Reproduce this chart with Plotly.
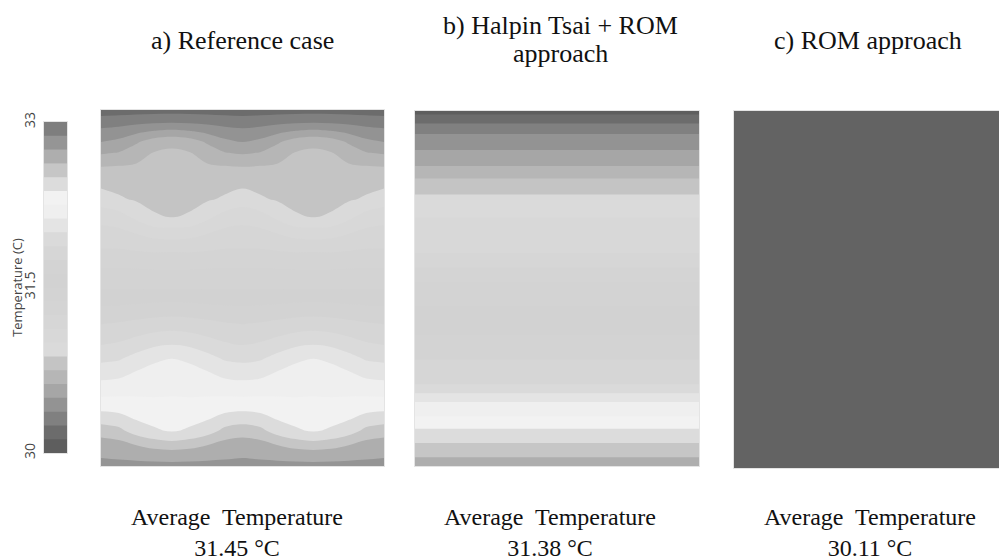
import plotly.graph_objects as go

# ---------------- data ----------------
# Panel a) reference case: temperature field (rows = depth from top, cols = horizontal position)
x_cols_a = [0, 0.0625, 0.125, 0.1875, 0.25, 0.3125, 0.375, 0.4375, 0.5,
            0.5625, 0.625, 0.6875, 0.75, 0.8125, 0.875, 0.9375, 1.0]
y_rows_a = [0, 0.03, 0.06, 0.09, 0.12, 0.16, 0.2, 0.25, 0.3, 0.35, 0.4, 0.45, 0.5,
            0.55, 0.6, 0.65, 0.7, 0.74, 0.78, 0.82, 0.86, 0.9, 0.94, 0.97, 1.0]
temp_a = [
    [30.20, 30.20, 30.20, 30.20, 30.20, 30.20, 30.20, 30.20, 30.20, 30.20, 30.20, 30.20, 30.20, 30.20, 30.20, 30.20, 30.20],
    [30.29, 30.30, 30.32, 30.33, 30.34, 30.33, 30.32, 30.30, 30.29, 30.30, 30.32, 30.33, 30.34, 30.33, 30.32, 30.30, 30.29],
    [30.41, 30.43, 30.47, 30.51, 30.53, 30.51, 30.47, 30.43, 30.41, 30.43, 30.47, 30.51, 30.53, 30.51, 30.47, 30.43, 30.41],
    [30.50, 30.53, 30.61, 30.69, 30.72, 30.69, 30.61, 30.53, 30.50, 30.53, 30.61, 30.69, 30.72, 30.69, 30.61, 30.53, 30.50],
    [30.61, 30.63, 30.69, 30.755, 30.77, 30.755, 30.69, 30.63, 30.61, 30.63, 30.69, 30.755, 30.77, 30.755, 30.69, 30.63, 30.61],
    [30.752, 30.76, 30.77, 30.78, 30.79, 30.78, 30.77, 30.76, 30.752, 30.76, 30.77, 30.78, 30.79, 30.78, 30.77, 30.76, 30.752],
    [30.83, 30.83, 30.82, 30.81, 30.81, 30.81, 30.82, 30.83, 30.83, 30.83, 30.82, 30.81, 30.81, 30.81, 30.82, 30.83, 30.83],
    [30.94, 30.89, 30.86, 30.85, 30.845, 30.85, 30.86, 30.89, 30.94, 30.89, 30.86, 30.85, 30.845, 30.85, 30.86, 30.89, 30.94],
    [31.075, 31.05, 30.97, 30.885, 30.87, 30.885, 30.97, 31.05, 31.075, 31.05, 30.97, 30.885, 30.87, 30.885, 30.97, 31.05, 31.075],
    [31.18, 31.17, 31.13, 31.09, 31.08, 31.09, 31.13, 31.17, 31.18, 31.17, 31.13, 31.09, 31.08, 31.09, 31.13, 31.17, 31.18],
    [31.27, 31.27, 31.26, 31.25, 31.255, 31.25, 31.26, 31.27, 31.27, 31.27, 31.26, 31.25, 31.255, 31.25, 31.26, 31.27, 31.27],
    [31.39, 31.39, 31.385, 31.38, 31.38, 31.38, 31.385, 31.39, 31.39, 31.39, 31.385, 31.38, 31.38, 31.38, 31.385, 31.39, 31.39],
    [31.49, 31.49, 31.49, 31.49, 31.49, 31.49, 31.49, 31.49, 31.49, 31.49, 31.49, 31.49, 31.49, 31.49, 31.49, 31.49, 31.49],
    [31.625, 31.63, 31.64, 31.655, 31.66, 31.655, 31.64, 31.63, 31.625, 31.63, 31.64, 31.655, 31.66, 31.655, 31.64, 31.63, 31.625],
    [31.745, 31.76, 31.78, 31.80, 31.81, 31.80, 31.78, 31.76, 31.745, 31.76, 31.78, 31.80, 31.81, 31.80, 31.78, 31.76, 31.745],
    [31.85, 31.87, 31.91, 31.95, 31.97, 31.95, 31.91, 31.87, 31.85, 31.87, 31.91, 31.95, 31.97, 31.95, 31.91, 31.87, 31.85],
    [31.975, 31.99, 32.05, 32.11, 32.13, 32.11, 32.05, 31.99, 31.975, 31.99, 32.05, 32.11, 32.13, 32.11, 32.05, 31.99, 31.975],
    [32.075, 32.09, 32.14, 32.16, 32.17, 32.16, 32.14, 32.09, 32.075, 32.09, 32.14, 32.16, 32.17, 32.16, 32.14, 32.09, 32.075],
    [32.18, 32.19, 32.20, 32.21, 32.22, 32.21, 32.20, 32.19, 32.18, 32.19, 32.20, 32.21, 32.22, 32.21, 32.20, 32.19, 32.18],
    [32.29, 32.29, 32.28, 32.27, 32.27, 32.27, 32.28, 32.29, 32.29, 32.29, 32.28, 32.27, 32.27, 32.27, 32.28, 32.29, 32.29],
    [32.42, 32.40, 32.35, 32.33, 32.315, 32.33, 32.35, 32.40, 32.42, 32.40, 32.35, 32.33, 32.315, 32.33, 32.35, 32.40, 32.42],
    [32.56, 32.53, 32.44, 32.39, 32.36, 32.39, 32.44, 32.53, 32.56, 32.53, 32.44, 32.39, 32.36, 32.39, 32.44, 32.53, 32.56],
    [32.69, 32.67, 32.62, 32.57, 32.55, 32.57, 32.62, 32.67, 32.69, 32.67, 32.62, 32.57, 32.55, 32.57, 32.62, 32.67, 32.69],
    [32.74, 32.73, 32.72, 32.71, 32.70, 32.71, 32.72, 32.73, 32.74, 32.73, 32.72, 32.71, 32.70, 32.71, 32.72, 32.73, 32.74],
    [32.78, 32.78, 32.78, 32.78, 32.78, 32.78, 32.78, 32.78, 32.78, 32.78, 32.78, 32.78, 32.78, 32.78, 32.78, 32.78, 32.78],
]

# Panel b) Halpin Tsai + ROM: layered (horizontally uniform) temperature profile
x_cols_b = [0, 1.0]
y_rows_b = [0, 0.01, 0.035, 0.065, 0.11, 0.155, 0.19, 0.235, 0.3, 0.40, 0.44, 0.48,
            0.55, 0.63, 0.70, 0.77, 0.795, 0.82, 0.86, 0.895, 0.935, 0.975, 1.0]
profile_b = [30.08, 30.125, 30.25, 30.375, 30.5, 30.625, 30.75, 30.875, 31.0, 31.125,
             31.25, 31.375, 31.5, 31.625, 31.75, 31.875, 32.0, 32.125, 32.25, 32.375,
             32.5, 32.625, 32.7]

# Panel c) ROM approach: uniform temperature
temp_c = 30.11

titles = ["a) Reference case", "b) Halpin Tsai + ROM", "approach", "c) ROM approach"]
avg_temps = ["31.45", "31.38", "30.11"]

cbar_range = [30, 33]
cbar_ticks = [30, 31.5, 33]
cbar_ticktext = ["30", "31.5", "33"]
level_size = 0.125

# ---------------- style ----------------
gray_scale = [
    [0.00, "#4a4a4a"], [0.04, "#5e5e5e"], [0.08, "#6c6c6c"], [0.12, "#808080"],
    [0.16, "#939393"], [0.20, "#a6a6a6"], [0.24, "#b6b6b6"], [0.28, "#c4c4c4"],
    [0.32, "#dadada"], [0.36, "#d8d8d8"], [0.40, "#d6d6d6"], [0.44, "#d4d4d4"],
    [0.50, "#d2d2d2"], [0.56, "#d3d3d3"], [0.60, "#d6d6d6"], [0.64, "#dadada"],
    [0.68, "#e4e4e4"], [0.72, "#efefef"], [0.76, "#f2f2f2"], [0.80, "#dcdcdc"],
    [0.84, "#c6c6c6"], [0.88, "#aeaeae"], [0.92, "#959595"], [0.96, "#7e7e7e"],
    [1.00, "#707070"],
]
contour_cfg = dict(start=cbar_range[0], end=cbar_range[1], size=level_size,
                   coloring="fill", showlines=False)
zlo = cbar_range[0] - level_size / 2
zhi = cbar_range[1] + level_size / 2

fig = go.Figure()

# colour bar built as a ramp on its own axis
fig.add_trace(go.Contour(
    x=[0, 1], y=cbar_range, z=[[cbar_range[0]] * 2, [cbar_range[1]] * 2],
    colorscale=gray_scale, contours=contour_cfg, line_width=0, showscale=False,
    xaxis="x", yaxis="y", hoverinfo="skip"))

z_b = [[v, v] for v in profile_b]

fig.add_trace(go.Contour(
    x=x_cols_a, y=y_rows_a, z=temp_a, colorscale=gray_scale, contours=contour_cfg,
    line=dict(width=0, smoothing=1.0), showscale=False, xaxis="x2", yaxis="y2"))
fig.add_trace(go.Contour(
    x=x_cols_b, y=y_rows_b, z=z_b, colorscale=gray_scale, contours=contour_cfg,
    line=dict(width=0), showscale=False, xaxis="x3", yaxis="y3"))
fig.add_trace(go.Heatmap(
    x=[0.5], y=[0.5], z=[[temp_c]], colorscale=gray_scale, zmin=zlo, zmax=zhi,
    showscale=False, xaxis="x4", yaxis="y4"))

H = 560.0
W = 1007.0
OFF = 8.0  # page body margin offset of the rendered figure


def xd(a, b):
    return [(a - OFF) / W, (b - OFF) / W]


def yd(top, bottom):
    return [1 - (bottom - OFF) / H, 1 - (top - OFF) / H]


def px(x):
    return (x - OFF) / W


def py(y):
    return 1 - (y - OFF) / H


def hidden(anchor):
    return dict(showticklabels=False, showgrid=False, zeroline=False, ticks="",
                showline=True, mirror=True, linecolor="#e4e4e4", linewidth=1,
                automargin=False, anchor=anchor)


layout = dict(
    width=1007, height=560,
    margin=dict(l=0, r=0, t=0, b=0, pad=0),
    paper_bgcolor="white", plot_bgcolor="white",
    showlegend=False,
    xaxis=dict(domain=xd(44, 67), range=[0, 1], **hidden("y")),
    yaxis=dict(domain=yd(122, 453), range=cbar_range, tickvals=cbar_ticks,
               ticktext=cbar_ticktext, tickangle=-90, showgrid=False, zeroline=False,
               ticks="", showline=True, mirror=True, linecolor="#e4e4e4",
               automargin=False, anchor="x", ticklabelstandoff=2,
               tickfont=dict(family="Open Sans, sans-serif", size=14, color="#444444"),
               title=dict(text="Temperature (C)", standoff=2,
                          font=dict(family="Open Sans, sans-serif", size=13, color="#444444"))),
    xaxis2=dict(domain=xd(101, 384), range=[0, 1], **hidden("y2")),
    yaxis2=dict(domain=yd(110, 466), range=[1, 0], **hidden("x2")),
    xaxis3=dict(domain=xd(415, 699), range=[0, 1], **hidden("y3")),
    yaxis3=dict(domain=yd(111, 466), range=[1, 0], **hidden("x3")),
    xaxis4=dict(domain=xd(734, 1015), range=[0, 1], **hidden("y4")),
    yaxis4=dict(domain=yd(111, 468), range=[0, 1], **hidden("x4")),
)
fig.update_layout(**layout)

serif = "Liberation Serif, Times New Roman, serif"
title_x = [242, 560, 560, 868]
title_y = [40, 25, 53, 40]
bottom_x = [237, 550, 870]
annos = []
for t, tx, ty in zip(titles, title_x, title_y):
    annos.append(dict(text=t, x=px(tx), y=py(ty), xref="paper", yref="paper",
                      xanchor="center", yanchor="middle", showarrow=False,
                      font=dict(family=serif, size=26, color="#111")))
for v, bx in zip(avg_temps, bottom_x):
    annos.append(dict(text="Average  Temperature<br>" + v + " °C", x=px(bx), y=py(532),
                      xref="paper", yref="paper", xanchor="center", yanchor="middle",
                      showarrow=False, font=dict(family=serif, size=24, color="#111")))
fig.update_layout(annotations=annos)

fig.write_html("out.html")
